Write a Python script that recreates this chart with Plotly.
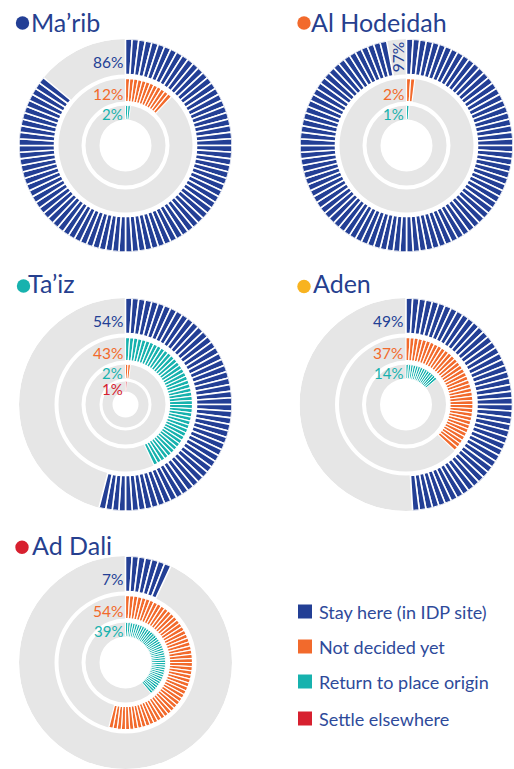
import math
import plotly.graph_objects as go

# ---------------- data ----------------
regions = ["Ma\u2019rib", "Al Hodeidah", "Ta\u2019iz", "Aden", "Ad Dali"]
stay_here = [86, 97, 54, 49, 7]
not_decided = [12, 2, 43, 37, 54]
return_origin = [2, 1, 2, 14, 39]
settle_elsewhere = [0, 0, 1, 0, 0]
legend_labels = ["Stay here (in IDP site)", "Not decided yet",
                 "Return to place origin", "Settle elsewhere"]

# ---------------- styles ----------------
W, H = 514, 769
BLUE = "#233F95"
ORANGE = "#F26A2C"
TEAL = "#17B2AE"
RED = "#D7202F"
GOLD = "#F8B320"
GRAY = "#E6E6E6"
TXT = "#263F8F"
LEG_TXT = "#2E4A9A"
FONT = "Lato"

series_colors = [BLUE, ORANGE, TEAL, RED]
dot_colors = [BLUE, ORANGE, TEAL, GOLD, RED]
# in the original graphic the Ta'iz bars of rings 2 and 3 use swapped colours
bar_color_override = {(2, 1): TEAL, (2, 2): ORANGE}

R_MAX = 106.5
ring_radii = [(71, 106.5), (44, 67), (26, 40), (13, 23)]
gap_width = [1.6, 1.2, 1.0, 0.8]
label_offset = [5, 4, 1.0, 2.0]

centers = [(125.5, 145.5), (406.5, 145.5), (125.5, 404.5), (406, 404.5), (125.5, 662.5)]
dots = [(22.5, 23), (304, 23), (23.5, 286), (304, 286.5), (22, 547.3)]
title_pos = [(28.5, 21.5), (309, 21.5), (26, 282.5), (311, 283), (29.5, 544.5)]
rotated_labels = {(1, 0): -90}

legend_squares_y = [611.5, 646.5, 681.5, 718.5]
legend_x = 298
SQ = 14


def px(x):
    return x / W


def py(y):
    return 1 - y / H


fig = go.Figure()
annotations = []
shapes = []

series = [stay_here, not_decided, return_origin, settle_elsewhere]

for k, name in enumerate(regions):
    cx, cy = centers[k]
    pid = "polar" if k == 0 else f"polar{k + 1}"
    values = [s[k] for s in series]
    for ring, v in enumerate(values):
        if v <= 0:
            continue
        r0, r1 = ring_radii[ring]
        # gray background track
        fig.add_trace(go.Barpolar(
            r=[r1 - r0], base=[r0], theta=[180], width=[360],
            marker=dict(color=GRAY, line=dict(width=0)),
            hoverinfo="skip", showlegend=False, subplot=pid))
        bar_col = bar_color_override.get((k, ring), series_colors[ring])
        thetas = [(i + 0.5) * 3.6 for i in range(v)]
        fig.add_trace(go.Barpolar(
            r=[r1 - r0] * v, base=[r0] * v, theta=thetas, width=[3.6] * v,
            marker=dict(color=bar_col, line=dict(color="white", width=gap_width[ring])),
            hoverinfo="skip", showlegend=False, subplot=pid))
        rmid = (r0 + r1) / 2
        if (k, ring) in rotated_labels:
            ang = math.radians((v + 100) / 2 * 3.6)
            lx = cx + rmid * math.sin(ang)
            ly = cy - rmid * math.cos(ang)
            annotations.append(dict(
                x=px(lx), y=py(ly), xref="paper", yref="paper",
                text=f"{v}%", showarrow=False, textangle=rotated_labels[(k, ring)],
                xanchor="center", yanchor="middle",
                font=dict(family=FONT, size=15.5, color=series_colors[ring])))
        else:
            annotations.append(dict(
                x=px(cx - 2), y=py(cy - rmid + label_offset[ring]),
                xref="paper", yref="paper", text=f"{v}%", showarrow=False,
                xanchor="right", yanchor="middle", borderpad=0,
                font=dict(family=FONT, size=15.5 if ring < 2 else 15,
                          color=series_colors[ring])))

    fig.update_layout(**{pid: dict(
        domain=dict(x=[px(cx - R_MAX), px(cx + R_MAX)],
                    y=[py(cy + R_MAX), py(cy - R_MAX)]),
        bgcolor="rgba(0,0,0,0)",
        barmode="overlay",
        radialaxis=dict(range=[0, R_MAX], visible=False),
        angularaxis=dict(rotation=90, direction="clockwise", visible=False),
    )})

    # title with coloured dot
    dx, dy = dots[k]
    shapes.append(dict(type="circle", xref="paper", yref="paper",
                       x0=px(dx - 6.7), x1=px(dx + 6.7), y0=py(dy + 6.7), y1=py(dy - 6.7),
                       fillcolor=dot_colors[k], line=dict(width=0)))
    tx, ty = title_pos[k]
    annotations.append(dict(x=px(tx), y=py(ty), xref="paper", yref="paper",
                            text=name, showarrow=False, xanchor="left", yanchor="middle",
                            font=dict(family=FONT, size=25, color=TXT)))

# legend
for i, lab in enumerate(legend_labels):
    yc = legend_squares_y[i]
    shapes.append(dict(type="rect", xref="paper", yref="paper",
                       x0=px(legend_x), x1=px(legend_x + SQ),
                       y0=py(yc + SQ / 2), y1=py(yc - SQ / 2),
                       fillcolor=series_colors[i], line=dict(width=0)))
    annotations.append(dict(x=px(legend_x + SQ + 5), y=py(yc), xref="paper", yref="paper",
                            text=lab, showarrow=False, xanchor="left", yanchor="middle",
                            font=dict(family=FONT, size=18, color=LEG_TXT)))

fig.update_layout(
    width=W, height=H, autosize=False,
    margin=dict(l=0, r=0, t=0, b=0),
    paper_bgcolor="white", plot_bgcolor="white",
    showlegend=False,
    annotations=annotations, shapes=shapes,
)

fig.write_html("out.html",
               config={"displayModeBar": False, "staticPlot": True},
               post_script="document.body.style.margin='0';document.body.style.overflow='hidden';")
